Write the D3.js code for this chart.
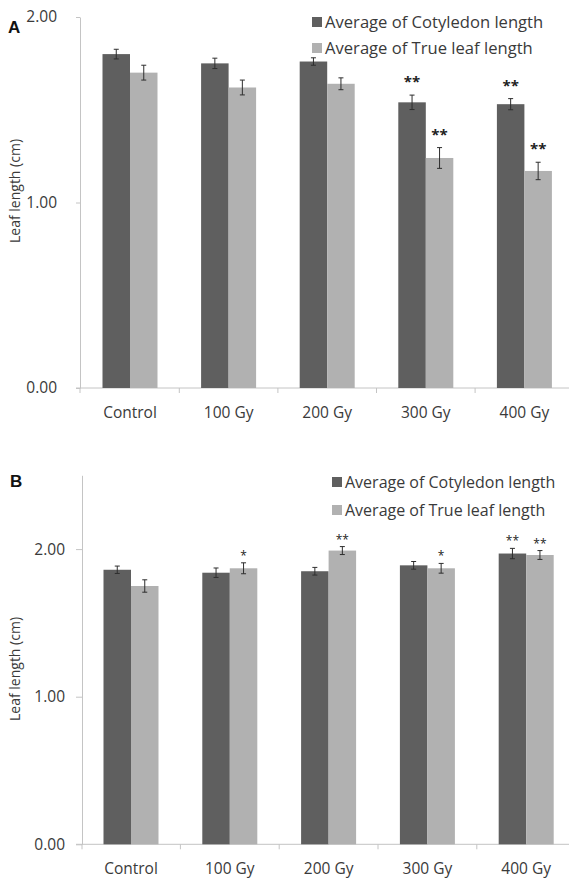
<!DOCTYPE html>
<html><head><meta charset="utf-8">
<script src="https://cdn.jsdelivr.net/npm/d3@7"></script>
<style>
body{margin:0;background:#fff;}
svg{display:block;font-family:"Open Sans",sans-serif;}
</style></head>
<body><svg id="c" width="569" height="879"></svg>
<script>
const categories = ["Control","100 Gy","200 Gy","300 Gy","400 Gy"];
const seriesNames = ["Average of Cotyledon length","Average of True leaf length"];

// Panel A
const aCotyledon = [1.80,1.75,1.76,1.54,1.53];
const aCotyledonErr = [0.026,0.028,0.020,0.039,0.030];
const aTrueLeaf = [1.70,1.62,1.64,1.24,1.17];
const aTrueLeafErr = [0.040,0.040,0.032,0.056,0.047];
const aCotyledonSig = ["","","","**","**"];
const aTrueLeafSig = ["","","","**","**"];

// Panel B
const bCotyledon = [1.86,1.84,1.85,1.89,1.97];
const bCotyledonErr = [0.025,0.032,0.026,0.026,0.035];
const bTrueLeaf = [1.75,1.87,1.99,1.87,1.96];
const bTrueLeafErr = [0.042,0.037,0.027,0.033,0.030];
const bCotyledonSig = ["","","","","**"];
const bTrueLeafSig = ["","*","**","*","**"];

const yTicks = [0,1,2];
const colors = ["#5f5f5f","#b1b1b1"];
const axisColor = "#c4c4c4";
const textColor = "#3a3a3a";

const svg = d3.select("#c");

function panel(cfg){
  const g = svg.append("g");
  const y = d3.scaleLinear().domain([0,cfg.yMax]).range([cfg.y0,cfg.yTop]);
  const x = d3.scaleBand().domain(categories).range([cfg.bandStart,cfg.bandStart+5*cfg.band]);
  const x1 = d3.scaleBand().domain([0,1]).range([0,cfg.barW*2]);
  const off = (x.bandwidth()-cfg.barW*2)/2;

  // y axis
  const ya = g.append("g").attr("transform",`translate(${cfg.axisX},0)`)
    .call(d3.axisLeft(y).tickValues(yTicks).tickFormat(d3.format(".2f"))
      .tickSize(cfg.tickLen).tickSizeOuter(0).tickPadding(cfg.tickPad));
  ya.select(".domain").attr("stroke",axisColor);
  ya.selectAll(".tick line").attr("stroke",axisColor);
  ya.selectAll(".tick text").attr("fill",textColor).style("font-size","15.5px").style("font-family","Open Sans");

  // x axis baseline + separators
  g.append("line").attr("x1",cfg.axisX-cfg.tickLen).attr("x2",569)
    .attr("y1",cfg.y0).attr("y2",cfg.y0).attr("stroke",axisColor);
  g.selectAll(".sep").data(categories).join("line")
    .attr("x1",d=>d===categories[0]?cfg.axisX:x(d)).attr("x2",d=>d===categories[0]?cfg.axisX:x(d))
    .attr("y1",cfg.y0).attr("y2",cfg.y0+5).attr("stroke",axisColor);
  const xa = g.append("g").attr("transform",`translate(0,${cfg.y0})`)
    .call(d3.axisBottom(x).tickSize(0).tickPadding(19));
  xa.select(".domain").remove();
  xa.selectAll(".tick text").attr("fill",textColor).style("font-size","15.5px").style("font-family","Open Sans");

  const series = [
    {v:cfg.cot, e:cfg.cotErr, s:cfg.cotSig},
    {v:cfg.tru, e:cfg.truErr, s:cfg.truSig}
  ];
  series.forEach((sr,si)=>{
    const data = categories.map((c,i)=>({c,v:sr.v[i],e:sr.e[i],s:sr.s[i]}));
    const bx = d=>x(d.c)+off+x1(si);
    g.append("g").selectAll("rect").data(data).join("rect")
      .attr("x",bx).attr("width",x1.bandwidth())
      .attr("y",d=>y(d.v)).attr("height",d=>y(0)-y(d.v))
      .attr("fill",colors[si]);
    const eg = g.append("g").attr("stroke","#2e2e2e").attr("stroke-width",1);
    data.forEach(d=>{
      const cx = bx(d)+x1.bandwidth()/2;
      eg.append("line").attr("x1",cx).attr("x2",cx).attr("y1",y(d.v+d.e)).attr("y2",y(d.v-d.e));
      eg.append("line").attr("x1",cx-2.5).attr("x2",cx+2.5).attr("y1",y(d.v+d.e)).attr("y2",y(d.v+d.e));
      eg.append("line").attr("x1",cx-2.5).attr("x2",cx+2.5).attr("y1",y(d.v-d.e)).attr("y2",y(d.v-d.e));
    });
    g.append("g").selectAll("text").data(data.filter(d=>d.s)).join("text")
      .attr("x",d=>bx(d)+x1.bandwidth()/2).attr("y",d=>y(d.v+d.e)-cfg.starGap)
      .attr("text-anchor","middle").attr("fill","#222")
      .style("font-size",cfg.starSize+"px").style("font-weight",cfg.starWeight)
      .text(d=>d.s);
  });

  // legend
  seriesNames.forEach((n,i)=>{
    const ly = cfg.legY[i];
    g.append("rect").attr("x",cfg.legX).attr("y",ly-5).attr("width",10).attr("height",10).attr("fill",colors[i]);
    g.append("text").attr("x",cfg.legX+13).attr("y",ly).attr("dy","0.36em")
      .attr("fill",textColor).style("font-size",cfg.legSize+"px").text(n);
  });

  // y title
  g.append("text").attr("transform",`translate(${cfg.titleX},${cfg.titleY}) rotate(-90)`)
    .attr("text-anchor","middle").attr("dy","0.35em").attr("fill",textColor)
    .style("font-size","14px").text("Leaf length (cm)");

  // panel letter
  g.append("text").attr("x",cfg.letterX).attr("y",cfg.letterY).attr("dy","0.36em")
    .attr("fill","#111").style("font-size","17px").style("font-weight","bold")
    .style("font-family","Liberation Sans").text(cfg.letter);
}

panel({letter:"A",letterX:8,letterY:27,axisX:80,y0:388,yTop:17,yMax:2,
  bandStart:80.7,band:98.6,barW:27.5,tickLen:4,tickPad:19,
  cot:aCotyledon,cotErr:aCotyledonErr,tru:aTrueLeaf,truErr:aTrueLeafErr,
  cotSig:aCotyledonSig,truSig:aTrueLeafSig,starGap:8,starSize:15,starWeight:"bold",
  legX:312,legY:[22,48],legSize:16.6,titleX:15,titleY:191});

panel({letter:"B",letterX:10,letterY:481,axisX:82,y0:844.3,yTop:475.3,yMax:2.5,
  bandStart:81.6,band:98.8,barW:27.5,tickLen:6,tickPad:11,
  cot:bCotyledon,cotErr:bCotyledonErr,tru:bTrueLeaf,truErr:bTrueLeafErr,
  cotSig:bCotyledonSig,truSig:bTrueLeafSig,starGap:3,starSize:12,starWeight:"normal",
  legX:332,legY:[482,510],legSize:16,titleX:15,titleY:669});
</script></body></html>
